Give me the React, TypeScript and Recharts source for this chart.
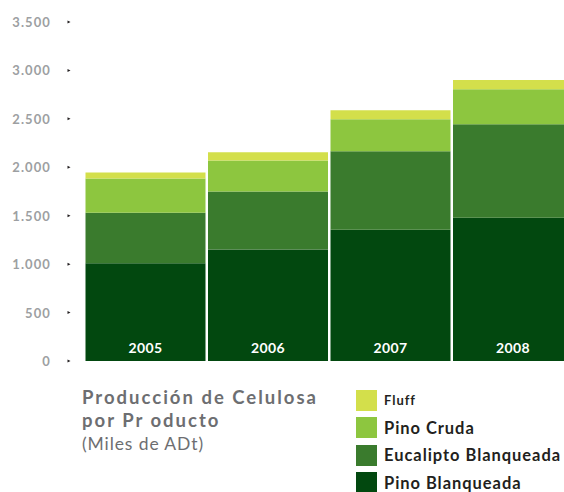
import { Bar, BarChart, LabelList, XAxis, YAxis } from "recharts"

const years = ["2005", "2006", "2007", "2008"]
const pinoBlanqueada = [1010, 1150, 1355, 1480]
const eucaliptoBlanqueada = [520, 600, 810, 965]
const pinoCruda = [355, 320, 330, 360]
const fluff = [62, 85, 95, 95]

const yTicks = [0, 500, 1000, 1500, 2000, 2500, 3000, 3500]

// bottom-to-top stacking order
const series = [
  { key: "pinoBlanqueada", name: "Pino Blanqueada", color: "#02480f" },
  { key: "eucalipto", name: "Eucalipto Blanqueada", color: "#3a7b2d" },
  { key: "pinoCruda", name: "Pino Cruda", color: "#8dc63f" },
  { key: "fluff", name: "Fluff", color: "#d3df4b" },
]

const data = years.map((year, i) => ({
  year,
  pinoBlanqueada: pinoBlanqueada[i],
  eucalipto: eucaliptoBlanqueada[i],
  pinoCruda: pinoCruda[i],
  fluff: fluff[i],
}))

const font = "Lato, 'Open Sans', sans-serif"

const fmt = (v: number) => v.toLocaleString("de-DE")

function YTick(props: any) {
  const { y, payload } = props
  return (
    <g>
      <text
        x={51}
        y={y}
        textAnchor="end"
        dominantBaseline="central"
        fill="#9d9fa2"
        fontFamily={font}
        fontWeight={700}
        fontSize={13}
        letterSpacing={1.1}
      >
        {fmt(payload.value)}
      </text>
      <polygon points={`${67.5},${y - 1.5} ${70.5},${y} ${67.5},${y + 1.5}`} fill="#231f20" />
    </g>
  )
}

export default function App() {
  return (
    <div
      style={{
        position: "absolute",
        top: 0,
        left: 0,
        width: 564,
        height: 492,
        overflow: "hidden",
        background: "#fff",
        fontFamily: font,
      }}
    >
      <BarChart
        width={580}
        height={492}
        data={data}
        margin={{ top: 22, right: 6, bottom: 131, left: 0 }}
        barCategoryGap={1.5}
      >
        <XAxis dataKey="year" hide />
        <YAxis
          width={84}
          domain={[0, 3500]}
          ticks={yTicks}
          axisLine={false}
          tickLine={false}
          tick={<YTick />}
          interval={0}
        />
        {series.map((s) => (
          <Bar
            key={s.key}
            dataKey={s.key}
            name={s.name}
            stackId="a"
            fill={s.color}
            isAnimationActive={false}
          >
            {s.key === "pinoBlanqueada" && (
              <LabelList
                dataKey="year"
                position="insideBottom"
                offset={8}
                fill="#ffffff"
                fontFamily={font}
                fontWeight={700}
                fontSize={14}
                letterSpacing={0.4}
              />
            )}
          </Bar>
        ))}
      </BarChart>

      <div
        style={{
          position: "absolute",
          left: 82,
          top: 386,
          color: "#6d6e71",
          fontSize: 18.5,
          lineHeight: "23px",
          whiteSpace: "nowrap",
        }}
      >
        <div style={{ fontWeight: 700, letterSpacing: 2 }}>Producción de Celulosa</div>
        <div style={{ fontWeight: 700, letterSpacing: 2 }}>por Pr oducto</div>
        <div style={{ fontWeight: 400, fontSize: 17.5, letterSpacing: 0.9 }}>(Miles de ADt)</div>
      </div>

      <div style={{ position: "absolute", left: 356, top: 386.5, whiteSpace: "nowrap" }}>
        {[...series].reverse().map((s) => (
          <div key={s.key} style={{ display: "flex", alignItems: "center", height: 27.5 }}>
            <div style={{ width: 21, height: 21, background: s.color, flex: "none" }} />
            <span
              style={{
                marginLeft: 7,
                color: "#231f20",
                fontWeight: 700,
                fontSize: s.key === "fluff" ? 13 : 16.5,
                letterSpacing: 0.95,
                lineHeight: "20px",
              }}
            >
              {s.name}
            </span>
          </div>
        ))}
      </div>
    </div>
  )
}
